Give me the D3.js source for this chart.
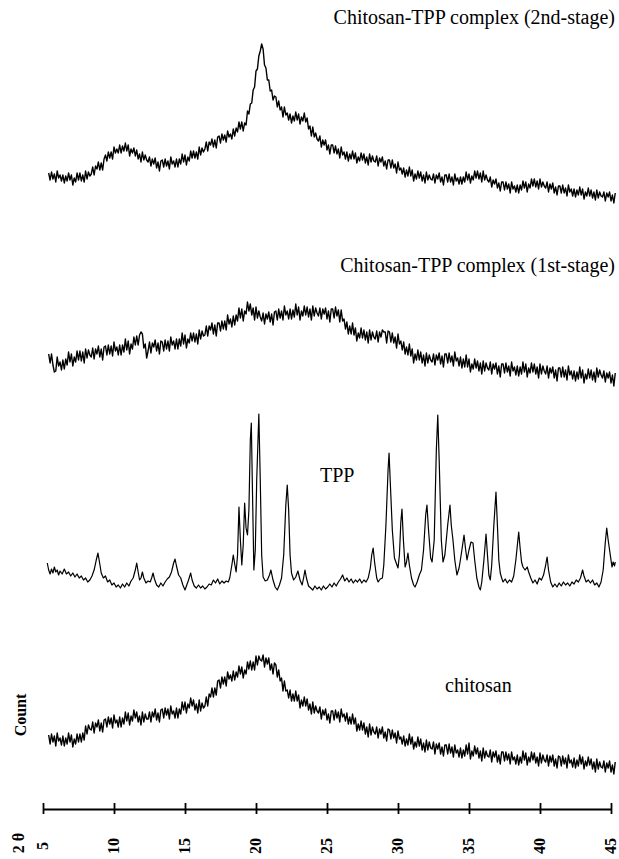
<!DOCTYPE html>
<html>
<head>
<meta charset="utf-8">
<script src="https://cdn.jsdelivr.net/npm/d3@7"></script>
<style>
  body { margin: 0; background: white; }
</style>
</head>
<body>
<script>
// XRD patterns: chitosan, TPP and the two chitosan-TPP complexes
//* scan grid for the noisy patterns (degrees 2 theta)
const scanStart = 5.4
const scanStep = 0.1

// counts (arbitrary units), one value per scan step, one row per degree
const stage2Counts = [
  27,20,28,21,26,18,29,22,25,19,
  25,17,24,19,27,20,25,15,22,18,
  27,20,27,19,25,18,29,21,28,24,
  26,33,25,34,31,38,30,37,30,41,
  45,39,48,42,48,41,53,47,51,47,
  55,47,54,49,57,49,55,44,51,47,
  52,44,50,41,46,38,48,40,45,40,
  38,43,34,41,36,42,32,38,29,39,
  40,33,41,34,39,31,43,36,39,33,
  41,33,41,36,46,38,45,35,43,39,
  49,42,49,42,48,41,53,45,52,48,
  51,58,49,58,55,61,53,60,52,63,
  64,57,66,60,65,58,69,63,66,61,
  71,64,72,68,78,71,78,69,77,75,
  89,86,96,97,110,113,129,131,144,149,
  156,151,135,132,120,120,109,110,100,104,
  103,93,99,90,93,83,93,85,87,80,
  86,77,84,79,88,80,86,76,83,79,
  87,78,82,71,74,64,73,63,67,61,
  59,64,53,60,55,60,50,55,46,55,
  55,47,54,46,51,42,53,45,48,41,
  48,39,46,41,49,41,47,37,43,39,
  47,40,46,37,43,35,46,38,44,39,
  38,44,34,42,38,43,34,39,31,40,
  40,32,40,32,36,27,38,30,32,26,
  32,23,30,24,33,24,30,19,26,21,
  29,22,28,19,25,17,28,20,25,21,
  20,26,17,25,21,27,18,23,15,25,
  25,18,26,18,23,15,26,19,22,16,
  23,16,23,18,28,20,26,17,24,20,
  29,22,29,21,27,18,29,20,25,20,
  18,23,13,20,16,21,12,17,9,18,
  18,10,18,11,16,7,18,11,14,8,
  15,7,15,10,19,12,18,8,16,12,
  21,14,21,13,19,11,21,13,18,14,
  12,18,8,16,11,17,7,13,5,14,
  14,7,15,7,12,4,15,8,11,4,
  11,3,10,5,13,5,11,1,8,4,
  12,4,10,2,8,0,10,2,8,4,
  3,8,-1,7,3,8,-1,5,-3,7
]

const stage1Counts = [
  36,27,36,25,18,19,33,24,28,20,
  30,21,31,25,38,28,36,24,33,28,
  39,30,39,29,38,27,41,32,40,35,
  33,42,31,41,36,44,33,41,30,43,
  44,35,45,36,44,34,48,39,43,35,
  45,35,45,38,51,40,49,36,46,41,
  53,45,54,45,55,58,56,42,46,32,
  39,48,37,47,43,50,39,47,36,49,
  48,39,50,41,49,39,53,45,49,41,
  51,41,51,44,57,46,55,42,51,47,
  57,49,57,48,56,46,60,51,59,54,
  55,64,54,64,60,67,56,65,54,67,
  67,59,69,61,69,60,75,66,71,63,
  74,65,75,69,82,72,81,69,79,76,
  88,79,86,75,82,70,83,72,79,73,
  69,77,66,76,71,78,68,76,65,78,
  79,70,81,72,79,70,84,75,79,71,
  81,71,80,73,86,75,83,70,79,74,
  84,75,83,73,81,70,84,74,82,77,
  74,82,71,81,76,82,71,79,68,81,
  81,72,83,74,80,68,80,69,71,61,
  68,56,64,56,67,55,62,49,57,52,
  62,52,60,50,58,47,60,50,58,53,
  51,59,48,58,53,60,58,58,47,59,
  58,48,57,47,53,42,56,46,49,40,
  48,36,43,35,46,34,41,27,36,30,
  40,30,38,27,35,24,37,27,35,30,
  28,36,25,35,30,37,26,34,23,36,
  36,27,37,28,34,24,38,29,32,24,
  33,22,31,23,35,23,31,18,26,21,
  31,22,29,19,27,16,29,19,27,22,
  20,28,16,26,21,27,16,24,13,26,
  26,17,27,18,24,14,28,19,23,15,
  24,14,23,16,28,18,26,13,22,17,
  27,18,26,16,23,12,26,16,24,19,
  16,24,12,22,17,23,12,20,9,22,
  22,13,23,13,20,10,24,15,19,11,
  19,9,18,11,23,12,20,7,16,11,
  21,12,20,10,18,8,22,13,20,15,
  12,19,8,17,12,18,7,15,4,17
]

const chitosanCounts = [
  45,36,46,38,44,34,47,39,42,35,
  44,34,42,36,47,38,45,33,41,36,
  46,38,46,38,47,40,54,46,55,51,
  50,58,47,57,53,60,49,57,48,60,
  61,53,63,56,62,52,65,57,60,53,
  63,53,62,56,68,59,67,55,64,59,
  70,62,68,58,64,55,68,58,66,61,
  61,68,58,68,63,71,60,67,58,70,
  71,62,72,65,71,61,74,66,69,62,
  72,62,71,66,78,70,78,67,76,72,
  82,74,80,70,76,67,80,69,77,72,
  74,83,74,86,83,92,83,92,85,99,
  100,92,103,96,103,94,108,101,105,99,
  109,100,108,103,114,106,113,102,110,106,
  118,111,119,110,118,110,124,115,124,120,
  119,125,113,122,116,122,110,116,106,117,
  115,103,110,99,102,89,99,89,90,82,
  90,79,86,79,89,79,85,72,80,74,
  83,74,81,70,76,66,78,67,74,69,
  67,73,61,70,65,71,60,66,57,69,
  69,60,70,62,68,58,71,63,66,59,
  67,56,63,56,66,56,62,49,56,50,
  59,50,57,46,53,43,56,45,53,48,
  46,53,42,51,46,53,42,48,39,51,
  50,41,50,42,47,37,49,41,43,36,
  44,34,41,35,46,36,43,31,38,33,
  43,34,41,30,37,28,40,30,38,32,
  31,38,26,36,31,37,26,33,24,35,
  35,26,36,27,33,23,35,27,30,23,
  32,22,30,24,35,26,37,21,29,24,
  34,26,32,22,29,19,32,22,29,24,
  23,30,18,28,23,29,18,25,16,28,
  28,19,28,20,26,16,28,20,23,16,
  25,15,23,17,29,20,27,15,23,18,
  28,20,27,17,23,14,27,17,25,20,
  18,25,14,24,18,25,14,21,12,24,
  23,14,24,16,22,12,25,17,20,13,
  22,12,20,14,25,16,23,11,19,14,
  23,15,21,11,18,8,21,11,18,13,
  12,19,8,17,12,19,8,15,6,18
]

// TPP is crystalline: [2 theta, counts] read peak by peak
const tppPoints = [
  [5.3,37],[5.4,30],[5.5,26],[5.6,31],[5.7,27],[5.8,33],[5.9,28],[6.0,30],[6.1,25],[6.2,29],
  [6.35,26],[6.5,31],[6.65,26],[6.8,28],[6.95,24],[7.1,27],[7.25,23],[7.4,26],[7.55,22],[7.7,24],
  [7.85,20],[8.0,22],[8.15,18],[8.3,20],[8.45,24],[8.6,30],[8.75,40],[8.87,47],[9.0,36],[9.1,27],
  [9.25,22],[9.4,24],[9.55,18],[9.7,20],[9.85,15],[10.0,17],[10.15,13],[10.3,15],[10.45,12],[10.6,16],
  [10.75,13],[10.9,17],[11.05,14],[11.2,19],[11.35,22],[11.5,30],[11.6,37],[11.7,28],[11.8,20],[11.9,22],
  [12.0,28],[12.1,22],[12.25,17],[12.4,19],[12.55,18],[12.65,22],[12.75,27],[12.85,21],[13.0,15],[13.15,13],
  [13.3,17],[13.45,14],[13.6,18],[13.75,21],[13.9,23],[14.05,28],[14.2,37],[14.3,41],[14.4,34],[14.55,25],
  [14.7,22],[14.85,15],[15.0,10],[15.1,14],[15.25,20],[15.4,27],[15.5,20],[15.65,14],[15.8,12],[15.95,15],
  [16.1,12],[16.25,14],[16.4,11],[16.55,13],[16.7,16],[16.85,15],[17.0,20],[17.15,17],[17.3,21],[17.45,16],
  [17.6,19],[17.75,17],[17.9,19],[18.05,18],[18.15,22],[18.3,35],[18.4,45],[18.5,36],[18.6,28],[18.7,45],
  [18.8,93],[18.9,60],[19.0,35],[19.1,55],[19.2,97],[19.3,72],[19.4,65],[19.5,90],[19.6,160],[19.67,177],
  [19.75,110],[19.85,30],[19.95,50],[20.05,120],[20.2,186],[20.3,120],[20.4,45],[20.5,23],[20.65,19],[20.8,20],
  [20.95,25],[21.05,30],[21.2,20],[21.35,13],[21.5,10],[21.65,15],[21.8,22],[21.95,45],[22.1,95],[22.2,115],
  [22.3,90],[22.4,45],[22.5,27],[22.65,20],[22.8,23],[22.95,29],[23.1,20],[23.25,15],[23.35,22],[23.45,30],
  [23.55,22],[23.7,14],[23.85,12],[24.0,10],[24.15,14],[24.3,11],[24.45,13],[24.6,10],[24.75,14],[24.9,11],
  [25.05,13],[25.2,16],[25.35,13],[25.5,17],[25.65,14],[25.8,18],[25.95,21],[26.1,25],[26.25,19],[26.4,22],
  [26.55,18],[26.7,21],[26.85,17],[27.0,20],[27.15,18],[27.3,21],[27.45,17],[27.6,20],[27.75,18],[27.9,22],
  [28.05,32],[28.15,45],[28.25,52],[28.35,38],[28.5,22],[28.6,18],[28.75,21],[28.9,22],[29.0,35],[29.15,75],
  [29.3,130],[29.37,147],[29.45,120],[29.6,70],[29.75,42],[29.85,38],[30.0,32],[30.1,45],[30.2,78],[30.28,91],
  [30.38,60],[30.5,33],[30.6,38],[30.7,47],[30.8,35],[30.95,22],[31.1,15],[31.2,13],[31.35,18],[31.5,25],
  [31.65,30],[31.8,50],[31.95,85],[32.04,95],[32.15,70],[32.3,42],[32.4,38],[32.55,60],[32.7,150],[32.8,185],
  [32.9,140],[33.05,60],[33.17,38],[33.3,45],[33.5,75],[33.66,95],[33.75,75],[33.87,60],[34.0,40],[34.15,25],
  [34.3,32],[34.36,37],[34.5,50],[34.65,65],[34.75,52],[34.86,40],[35.0,50],[35.14,58],[35.28,57],[35.4,40],
  [35.55,22],[35.7,13],[35.8,10],[35.9,18],[36.05,40],[36.2,66],[36.3,45],[36.4,25],[36.5,20],[36.6,35],
  [36.75,75],[36.9,108],[37.0,75],[37.1,40],[37.2,27],[37.3,22],[37.4,18],[37.55,21],[37.7,17],[37.85,20],
  [38.0,18],[38.15,24],[38.3,40],[38.5,68],[38.6,52],[38.7,38],[38.8,33],[38.95,30],[39.1,33],[39.2,28],
  [39.35,22],[39.5,17],[39.65,20],[39.8,16],[39.95,22],[40.1,20],[40.25,25],[40.4,35],[40.5,43],[40.6,30],
  [40.75,18],[40.9,13],[41.05,16],[41.2,13],[41.35,17],[41.5,14],[41.65,18],[41.8,15],[41.95,17],[42.1,14],
  [42.25,18],[42.4,16],[42.55,20],[42.7,18],[42.85,22],[43.0,30],[43.1,24],[43.25,18],[43.4,20],[43.55,17],
  [43.7,20],[43.85,15],[44.0,17],[44.15,13],[44.3,18],[44.45,30],[44.6,58],[44.7,72],[44.8,60],[44.9,50],
  [45.0,40],[45.07,33],[45.15,38],[45.25,34],[45.3,38]
]

const tickValues = [5, 10, 15, 20, 25, 30, 35, 40, 45]

const w = 619
const h = 859
const serif = "'Liberation Serif', 'Times New Roman', serif"

const svg = d3.select("body")
              .append("svg")
              .attr("width", w)
              .attr("height", h)
              .style("background-color", "white")

const xScale = d3.scaleLinear()
                 .domain([5, 45])
                 .range([43, 611])

//? turn the evenly stepped scans into [angle, counts] pairs
const onGrid = (counts) => counts.map((c, i) => [+(scanStart + i * scanStep).toFixed(1), c])

// each pattern sits on its own baseline, 1 count = 1 px
const traces = [
  { points: onGrid(stage2Counts), base: 200, width: 1.4 },
  { points: onGrid(stage1Counts), base: 390, width: 1.4 },
  { points: tppPoints, base: 600, width: 1.2 },
  { points: onGrid(chitosanCounts), base: 780, width: 1.4 }
]

traces.forEach((t) => {
  const yScale = d3.scaleLinear()
                   .domain([0, 200])
                   .range([t.base, t.base - 200])
  const line = d3.line()
                 .x((d) => xScale(d[0]))
                 .y((d) => yScale(d[1]))
  svg.append("path")
     .datum(t.points)
     .attr("d", line)
     .attr("fill", "none")
     .attr("stroke", "black")
     .attr("stroke-width", t.width)
     .attr("stroke-linejoin", "round")
})

//? the 2 theta axis
const xAxis = d3.axisBottom(xScale)
                .tickValues(tickValues)
                .tickSizeOuter(0)
                .tickFormat(d3.format("d"))

const gx = svg.append("g")
              .attr("transform", "translate(0, 809)")
              .call(xAxis)

gx.select(".domain")
  .attr("stroke", "black")
  .attr("stroke-width", 2.2)
gx.selectAll(".tick line")
  .attr("stroke", "black")
  .attr("stroke-width", 1.8)
  .attr("y1", -6)
  .attr("y2", 5)
gx.selectAll(".tick text")
  .attr("transform", "rotate(-90)")
  .attr("x", -37)
  .attr("y", 0)
  .attr("dy", "0.28em")
  .attr("text-anchor", "middle")
  .attr("fill", "black")
  .style("font-family", serif)
  .style("font-weight", "bold")
  .style("font-size", "16px")

svg.append("text")
   .attr("transform", "translate(18, 843) rotate(-90)")
   .attr("text-anchor", "middle")
   .attr("dy", "0.35em")
   .style("font-family", serif)
   .style("font-weight", "bold")
   .style("font-size", "16px")
   .text("2 θ")

svg.append("text")
   .attr("transform", "translate(20, 715) rotate(-90)")
   .attr("text-anchor", "middle")
   .attr("dy", "0.35em")
   .style("font-family", serif)
   .style("font-weight", "bold")
   .style("font-size", "16px")
   .text("Count")

//? pattern names
const addLabel = (x, y, anchor, txt) => {
  svg.append("text")
     .attr("x", x)
     .attr("y", y)
     .attr("text-anchor", anchor)
     .style("font-family", serif)
     .style("font-size", "20px")
     .text(txt)
}
addLabel(615, 24, "end", "Chitosan-TPP complex (2nd-stage)")
addLabel(615, 272, "end", "Chitosan-TPP complex (1st-stage)")
addLabel(320, 482, "start", "TPP")
addLabel(445, 692, "start", "chitosan")
</script>
</body>
</html>
